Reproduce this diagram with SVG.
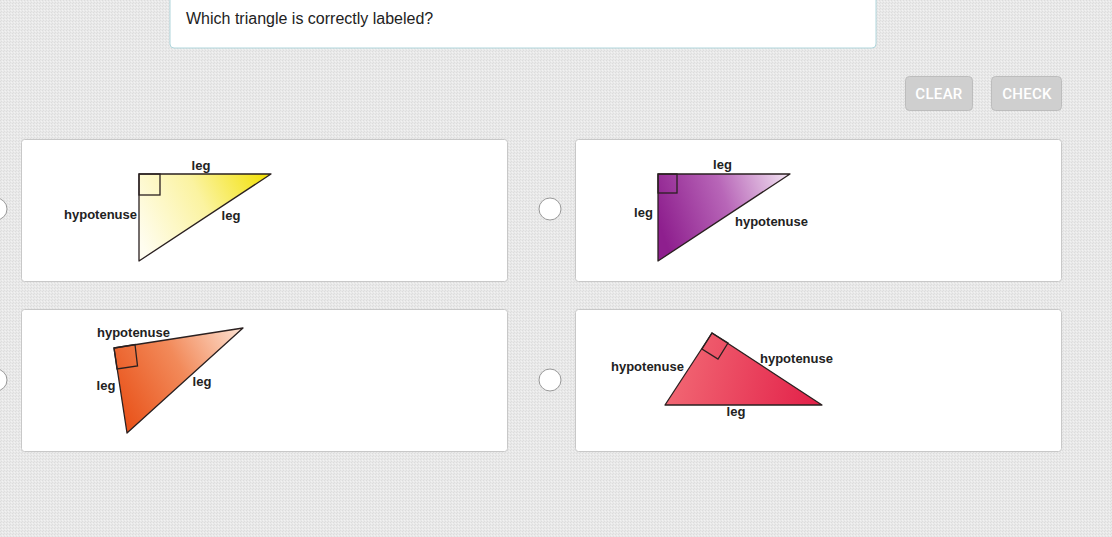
<svg xmlns="http://www.w3.org/2000/svg" width="1112" height="537" viewBox="0 0 1112 537">
<defs>
<pattern id="bg" width="3" height="3" patternUnits="userSpaceOnUse">
<rect width="3" height="3" fill="#e9e9e9"/>
<rect width="1" height="1" fill="#dcdcdc"/>
<rect x="2" y="1" width="1" height="1" fill="#f2f2f2"/>
<rect x="1" y="2" width="1" height="1" fill="#dedede"/>
</pattern>
<linearGradient id="gY" x1="139" y1="240" x2="271" y2="174" gradientUnits="userSpaceOnUse">
<stop offset="0" stop-color="#fffdf0"/><stop offset="0.5" stop-color="#fbf3a0"/><stop offset="1" stop-color="#f2e000"/>
</linearGradient>
<linearGradient id="gP" x1="658" y1="220" x2="790" y2="174" gradientUnits="userSpaceOnUse">
<stop offset="0" stop-color="#8e1f8e"/><stop offset="0.5" stop-color="#b866b8"/><stop offset="1" stop-color="#f3e6f3"/>
</linearGradient>
<linearGradient id="gO" x1="114" y1="400" x2="243" y2="328" gradientUnits="userSpaceOnUse">
<stop offset="0" stop-color="#e9541c"/><stop offset="0.5" stop-color="#f28a5a"/><stop offset="1" stop-color="#fde3d4"/>
</linearGradient>
<linearGradient id="gR" x1="665" y1="370" x2="822" y2="405" gradientUnits="userSpaceOnUse">
<stop offset="0" stop-color="#f26a75"/><stop offset="1" stop-color="#e21f48"/>
</linearGradient>
</defs>
<style>
.card{fill:#fff;stroke:#c8c8c8;stroke-width:1}
.tri{stroke:#2a2020;stroke-width:1.3;stroke-linejoin:round}
.sq{fill:none;stroke:#2a2020;stroke-width:1.3}
.lbl{font-family:"Liberation Sans",Arial,sans-serif;font-size:13px;font-weight:bold;fill:#222}
.radio{fill:#fff;stroke:#999;stroke-width:1}
.btn{fill:#cfcfcf;stroke:#bdbdbd;stroke-width:1}
.btnt{font-family:Roboto,"Liberation Sans",sans-serif;font-size:15px;font-weight:500;letter-spacing:0.3px;fill:#fff;text-anchor:middle}
</style>
<rect width="1112" height="537" fill="url(#bg)"/>
<g id="question">
<rect x="170" y="-6" width="706" height="54" rx="4" fill="#fff" stroke="#b0d6dc"/>
<text x="186" y="24" font-family="Liberation Sans,Arial,sans-serif" font-size="16" fill="#222">Which triangle is correctly labeled?</text>
</g>
<g id="clear">
<rect class="btn" x="905.5" y="76.5" width="67" height="34" rx="4"/>
<text class="btnt" x="939" y="99">CLEAR</text>
</g>
<g id="check">
<rect class="btn" x="991.5" y="76.5" width="70" height="34" rx="4"/>
<text class="btnt" x="1027" y="99">CHECK</text>
</g>
<g id="optionA">
<circle class="radio" cx="-4" cy="209" r="11"/>
<rect class="card" x="21.5" y="139.5" width="486" height="142" rx="3"/>
<polygon class="tri" points="139,174 271,174 139,261" fill="url(#gY)"/>
<rect class="sq" x="139" y="174" width="21" height="21"/>
<text class="lbl" x="201" y="170" text-anchor="middle">leg</text>
<text class="lbl" x="137" y="219" text-anchor="end">hypotenuse</text>
<text class="lbl" x="231" y="220" text-anchor="middle">leg</text>
</g>
<g id="optionB">
<circle class="radio" cx="550" cy="209" r="11"/>
<rect class="card" x="575.5" y="139.5" width="486" height="142" rx="3"/>
<polygon class="tri" points="658,174 790,174 658,261" fill="url(#gP)"/>
<rect class="sq" x="658" y="174" width="19" height="19"/>
<text class="lbl" x="722.5" y="169" text-anchor="middle">leg</text>
<text class="lbl" x="643.5" y="217" text-anchor="middle">leg</text>
<text class="lbl" x="735" y="226">hypotenuse</text>
</g>
<g id="optionC">
<circle class="radio" cx="-4" cy="380" r="11"/>
<rect class="card" x="21.5" y="309.5" width="486" height="142" rx="3"/>
<polygon class="tri" points="114,348 243,328 127,433" fill="url(#gO)"/>
<polygon class="sq" points="114,348 135,344.5 137.5,366 117,369"/>
<text class="lbl" x="97" y="337">hypotenuse</text>
<text class="lbl" x="106" y="390" text-anchor="middle">leg</text>
<text class="lbl" x="202" y="386" text-anchor="middle">leg</text>
</g>
<g id="optionD">
<circle class="radio" cx="550" cy="380" r="11"/>
<rect class="card" x="575.5" y="309.5" width="486" height="142" rx="3"/>
<polygon class="tri" points="712,333 822,405 665,405" fill="url(#gR)"/>
<polygon class="sq" points="712,333 728,343 718,359 702,349"/>
<text class="lbl" x="611" y="371">hypotenuse</text>
<text class="lbl" x="760" y="363">hypotenuse</text>
<text class="lbl" x="736" y="416" text-anchor="middle">leg</text>
</g>
<g id="connectors"/>
</svg>
